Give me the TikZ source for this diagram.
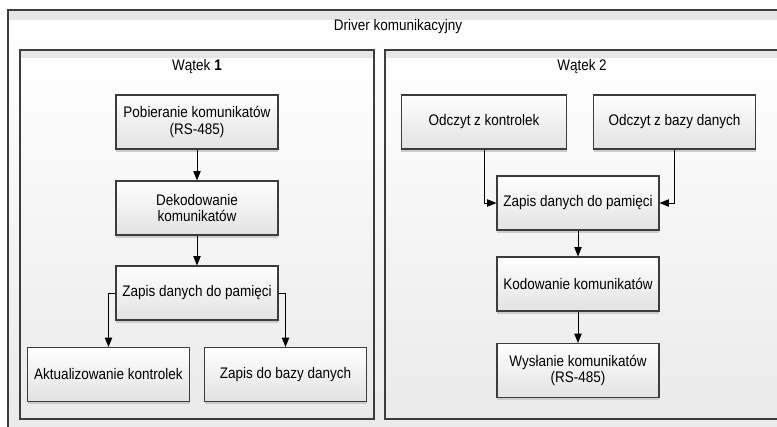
\documentclass[tikz,border=0pt]{standalone}
\usepackage{fontspec}
\setmainfont{Liberation Sans}[FakeStretch=0.88]
\usetikzlibrary{arrows.meta,shadows}

\definecolor{framegray}{RGB}{60,60,60}
\definecolor{stripgray}{RGB}{230,230,230}
\definecolor{boxbottom}{RGB}{226,226,226}
\definecolor{panelbottom}{RGB}{234,234,234}

\tikzset{
  stepbox/.style={
    draw=framegray,
    line width=0.8pt,
    top color=white,
    bottom color=boxbottom,
    minimum width=121.5pt,
    minimum height=40.5pt,
    align=center,
    inner sep=2pt,
    drop shadow={shadow xshift=0pt, shadow yshift=-2pt, fill=gray!40, opacity=1}
  },
  flow/.style={
    -{Triangle[length=7pt,width=5.5pt]},
    line width=0.6pt,
    black
  }
}

\begin{document}
\begin{tikzpicture}[x=0.75pt,y=-0.75pt,
    every node/.style={font=\fontsize{11.5}{12.5}\selectfont}]
  \useasboundingbox (0,0) rectangle (777,427);
  \clip (0,0) rectangle (777,427);

  % Driver panel
  \path[
    draw=framegray,
    line width=1pt,
    top color=white,
    bottom color=panelbottom
  ] (8,10) rectangle (790,445);
  \fill[stripgray] (8.6,10.6) rectangle (790,20);
  \node (drvtitle) at (398,27) {Driver komunikacyjny};

  % Thread 1 panel
  \path[
    draw=framegray,
    line width=1pt,
    top color=white,
    bottom color=panelbottom
  ] (20,50) rectangle (374,419);
  \fill[stripgray] (20.6,50.6) rectangle (373.4,58);
  \node (thrAtitle) at (197,67) {Wątek~\textbf{1}};

  % Thread 2 panel
  \path[
    draw=framegray,
    line width=1pt,
    top color=white,
    bottom color=panelbottom
  ] (385,50) rectangle (779,419);
  \fill[stripgray] (385.6,50.6) rectangle (779,58);
  \node (thrBtitle) at (582,67) {Wątek 2};

  % Thread 1 steps
  \node[stepbox] (fetch) at (197,122) {Pobieranie komunikatów\\(RS-485)};
  \node[stepbox] (decode) at (197,208) {Dekodowanie\\komunikatów};
  \node[stepbox] (storeA) at (197,293) {Zapis danych do pamięci};
  \node[stepbox] (update) at (108.5,374.5) {Aktualizowanie kontrolek};
  \node[stepbox] (dbsave) at (285.5,374.5) {Zapis do bazy danych};

  % Thread 2 steps
  \node[stepbox, minimum width=124pt] (readctl) at (484,122) {Odczyt z kontrolek};
  \node[stepbox] (readdb) at (674.5,122) {Odczyt z bazy danych};
  \node[stepbox] (storeB) at (578,203) {Zapis danych do pamięci};
  \node[stepbox] (encode) at (578,284) {Kodowanie komunikatów};
  \node[stepbox] (send) at (578,370.5) {Wysłanie komunikatów\\(RS-485)};

  % Connectors
  \draw[flow] (fetch) -- (decode);
  \draw[flow] (decode) -- (storeA);
  \draw[flow] (storeA.west) -| (update.north);
  \draw[flow] (storeA.east) -| (dbsave.north);
  \draw[flow] (readctl.south) |- (storeB.west);
  \draw[flow] (readdb.south) |- (storeB.east);
  \draw[flow] (storeB) -- (encode);
  \draw[flow] (encode) -- (send);
\end{tikzpicture}
\end{document}
